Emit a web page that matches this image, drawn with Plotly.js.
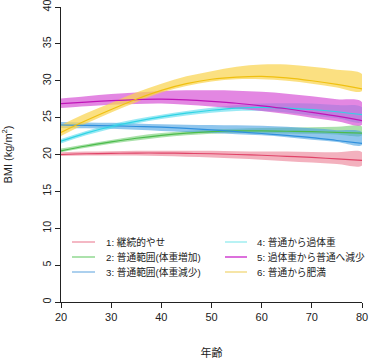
<!DOCTYPE html>
<html><head><meta charset="utf-8">
<script src="https://cdn.plot.ly/plotly-3.0.1.min.js"></script>
<style>html,body{margin:0;padding:0;background:#fff}</style>
</head><body><div id="chart" style="width:370px;height:359px"></div>
<script>
var ages = [20,25,30,35,40,45,50,55,60,65,70,75,80];
var names = ["1: 継続的やせ","2: 普通範囲(体重増加)","3: 普通範囲(体重減少)","4: 普通から過体重","5: 過体重から普通へ減少","6: 普通から肥満"];

var c1 = [20.0,20.1,20.15,20.2,20.2,20.15,20.1,20.0,19.9,19.75,19.6,19.4,19.2];
var u1 = [20.3,20.4,20.45,20.5,20.5,20.5,20.5,20.45,20.4,20.4,20.35,20.3,20.3];
var l1 = [19.8,19.85,19.85,19.85,19.8,19.7,19.6,19.45,19.3,19.1,18.9,18.7,18.5];

var c2 = [20.5,21.15,21.7,22.2,22.6,22.9,23.1,23.2,23.2,23.15,23.1,23.0,22.9];
var u2 = [20.8,21.4,21.95,22.5,22.9,23.2,23.4,23.5,23.6,23.65,23.7,23.75,23.8];
var l2 = [20.3,20.9,21.45,21.9,22.3,22.6,22.8,22.9,22.9,22.85,22.8,22.7,22.6];

var c3 = [24.0,23.95,23.9,23.8,23.7,23.55,23.35,23.1,22.85,22.6,22.3,21.9,21.5];
var u3 = [24.4,24.35,24.3,24.2,24.1,24.05,24.0,23.95,23.9,23.75,23.55,23.3,23.0];
var l3 = [23.6,23.55,23.5,23.35,23.2,23.05,22.9,22.75,22.6,22.35,22.0,21.7,21.3];

var c4 = [21.8,22.9,23.8,24.5,25.1,25.6,26.0,26.3,26.4,26.3,26.1,25.8,25.4];
var u4 = [22.1,23.2,24.1,24.8,25.4,25.9,26.35,26.7,26.9,26.95,26.9,26.7,26.4];
var l4 = [21.5,22.6,23.5,24.2,24.8,25.3,25.65,25.9,25.9,25.7,25.3,24.9,24.4];

var c5 = [26.9,27.1,27.3,27.45,27.5,27.4,27.2,26.95,26.6,26.2,25.7,25.2,24.6];
var u5 = [27.6,27.9,28.2,28.4,28.6,28.7,28.7,28.65,28.5,28.25,27.9,27.5,27.1];
var l5 = [26.3,26.55,26.75,26.85,26.9,26.75,26.5,26.25,25.9,25.5,25.0,24.5,24.05];

var c6 = [23.0,24.6,26.1,27.5,28.7,29.6,30.2,30.5,30.6,30.4,30.0,29.5,28.9];
var u6 = [24.0,25.6,27.0,28.4,29.6,30.6,31.3,31.9,32.2,32.2,31.9,31.5,30.9];
var l6 = [22.5,24.2,25.7,27.1,28.4,29.3,29.9,30.2,30.2,30.0,29.6,29.1,28.6];

var centers = [c1,c2,c3,c4,c5,c6];
var uppers = [u1,u2,u3,u4,u5,u6];
var lowers = [l1,l2,l3,l4,l5,l6];

var lineCols = ["#E04468","#4CBB4C","#3090DD","#30D4E4","#C014B8","#F0C010"];
var bandCols = ["rgba(232,100,125,0.5)","rgba(100,200,100,0.55)","rgba(70,160,225,0.6)","rgba(70,215,235,0.55)","rgba(212,70,210,0.65)","rgba(250,212,80,0.72)"];
var legCols = ["#F0A0B0","#90D890","#90C0E8","#A0EEF0","#D040D0","#F3DC8A"];

var traces = [];
for (var i = 0; i < 6; i++) {
  traces.push({
    x: ages.concat(ages.slice().reverse()),
    y: uppers[i].concat(lowers[i].slice().reverse()),
    type: "scatter", mode: "lines", fill: "toself",
    fillcolor: bandCols[i], line: {width: 0, shape: "spline"},
    hoverinfo: "skip", showlegend: false
  });
}
for (var i = 0; i < 6; i++) {
  traces.push({
    x: ages, y: centers[i], type: "scatter", mode: "lines", name: names[i],
    line: {color: lineCols[i], width: 1.2, shape: "spline"},
    showlegend: false
  });
}

// Legend drawn as key lines + text labels (two columns, three rows)
var W = 370, H = 359, mL = 61, mR = 8, mT = 7, mB = 57;
var pw = W - mL - mR, ph = H - mT - mB;
function px2x(p) { return (p - mL) / pw; }
function py2y(p) { return (H - mB - p) / ph; }
var colKeyX = [[72, 95], [225, 247]];
var colTextX = [105, 256];
var rowY = [242, 257, 272];
var shapes = [], annotations = [];
for (var i = 0; i < 6; i++) {
  var col = i < 3 ? 0 : 1, row = i % 3;
  shapes.push({type: "line", xref: "paper", yref: "paper",
    x0: px2x(colKeyX[col][0]), x1: px2x(colKeyX[col][1]),
    y0: py2y(rowY[row]), y1: py2y(rowY[row]),
    line: {color: legCols[i], width: 1.5}});
  annotations.push({xref: "paper", yref: "paper", x: px2x(colTextX[col]), y: py2y(rowY[row]),
    xanchor: "left", yanchor: "middle", showarrow: false, text: names[i], borderpad: 0,
    font: {size: 9.7, color: "#222"}});
}

var fontFam = "Liberation Sans, Arial, Noto Sans CJK JP, sans-serif";

var layout = {
  width: W, height: H,
  margin: {l: mL, r: mR, t: mT, b: mB, autoexpand: false},
  paper_bgcolor: "#fff", plot_bgcolor: "#fff",
  font: {family: fontFam, size: 12, color: "#222"},
  showlegend: false,
  xaxis: {
    range: [20, 80], tickvals: [20,30,40,50,60,70,80],
    showgrid: false, zeroline: false, showline: true, linecolor: "#222", linewidth: 1,
    ticks: "outside", ticklen: 5, tickcolor: "#222", ticklabeloverflow: "allow",
    tickfont: {size: 11},
    title: {text: "年齢", font: {size: 11}, standoff: 27}
  },
  yaxis: {
    range: [0, 40], tickvals: [0,5,10,15,20,25,30,35,40],
    showgrid: false, zeroline: false, showline: true, linecolor: "#222", linewidth: 1,
    ticks: "outside", ticklen: 5, tickcolor: "#222", tickangle: -90, ticklabeloverflow: "allow",
    tickfont: {size: 10.8},
    title: {text: "BMI (kg/m<sup>2</sup>)", font: {size: 11}, standoff: 26}
  },
  shapes: shapes,
  annotations: annotations
};

Plotly.newPlot("chart", traces, layout, {displayModeBar: false, staticPlot: true});
</script>
</body></html>
